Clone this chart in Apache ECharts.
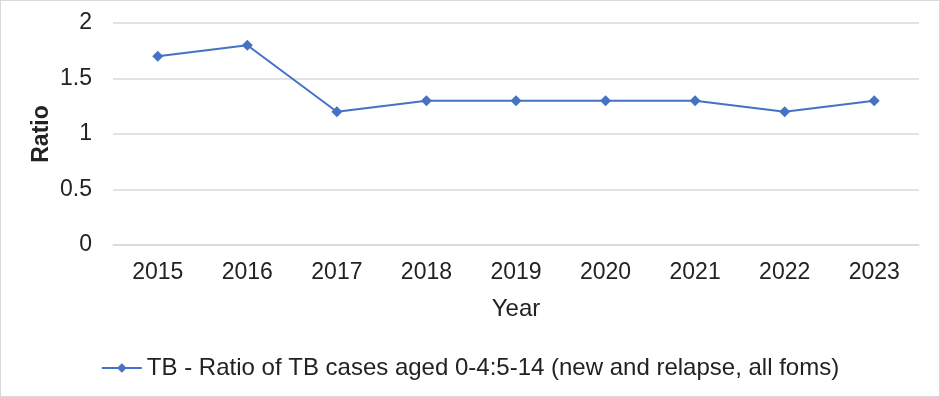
<!DOCTYPE html>
<html>
<head>
<meta charset="utf-8">
<script src="https://cdn.jsdelivr.net/npm/echarts@6/dist/echarts.min.js"></script>
<style>
html, body { margin: 0; padding: 0; background: #fff; }
#chart { width: 938px; height: 395px; border: 1px solid #d9d9d9; }
</style>
</head>
<body>
<div id="chart"></div>
<script>
const years = ['2015', '2016', '2017', '2018', '2019', '2020', '2021', '2022', '2023'];
const ratio = [1.7, 1.8, 1.2, 1.3, 1.3, 1.3, 1.3, 1.2, 1.3];
const seriesName = 'TB - Ratio of TB cases aged 0-4:5-14 (new and relapse, all foms)';

const font = '"Liberation Sans", Arial, sans-serif';
const chart = echarts.init(document.getElementById('chart'));

chart.setOption({
  animation: false,
  textStyle: {fontFamily: font},
  grid: {left: 112, right: 20, top: 22, bottom: 151},
  legend: {
    top: 350,
    left: 'center',
    itemWidth: 40,
    itemHeight: 12,
    itemGap: 4,
    textStyle: {fontSize: 24, color: '#222', fontFamily: font},
    data: [seriesName]
  },
  xAxis: {
    type: 'category',
    data: years,
    name: 'Year',
    nameLocation: 'middle',
    nameGap: 52,
    nameMoveOverlap: false,
    nameTextStyle: {fontSize: 24, color: '#222'},
    axisLine: {lineStyle: {color: '#d9d9d9', width: 1.5}},
    axisTick: {show: false},
    axisLabel: {fontSize: 23, color: '#222', margin: 16}
  },
  yAxis: {
    type: 'value',
    min: 0,
    max: 2,
    interval: 0.5,
    name: 'Ratio',
    nameLocation: 'middle',
    nameGap: 60,
    nameMoveOverlap: false,
    nameTextStyle: {fontSize: 23, fontWeight: 'bold', color: '#222'},
    axisLine: {show: false},
    axisTick: {show: false},
    axisLabel: {fontSize: 23, color: '#222', margin: 21},
    splitLine: {lineStyle: {color: '#d9d9d9', width: 1.5}}
  },
  series: [{
    name: seriesName,
    type: 'line',
    data: ratio,
    symbol: 'diamond',
    symbolSize: 11,
    lineStyle: {color: '#4472C4', width: 2},
    itemStyle: {color: '#4472C4'}
  }]
});
</script>
</body>
</html>
